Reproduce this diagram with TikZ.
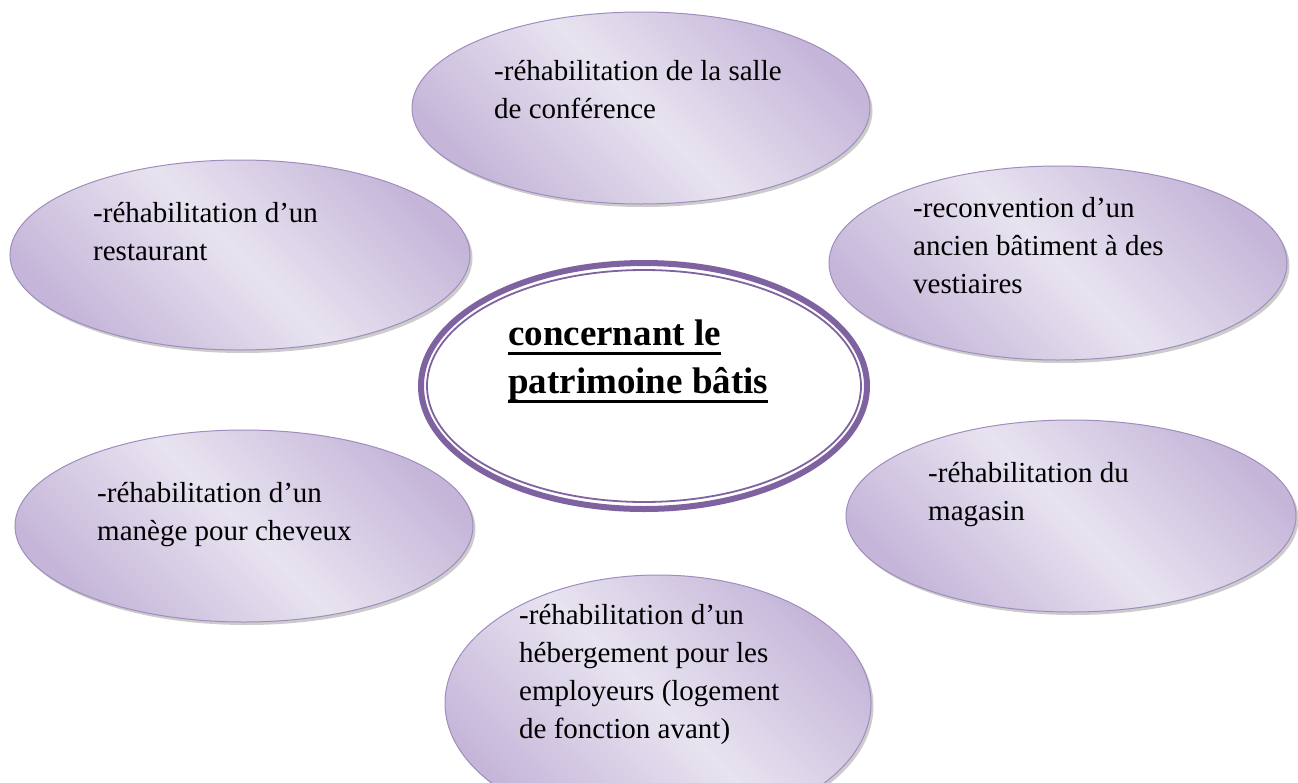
\documentclass[tikz,border=0pt]{standalone}
\usepackage{fontspec}
\setmainfont{Liberation Serif}
\usetikzlibrary{shapes.geometric,shadows}
\definecolor{pdark}{HTML}{C5B6D9}
\definecolor{plight}{HTML}{E8E3F0}
\definecolor{pborder}{HTML}{A08DBD}
\definecolor{ppurple}{HTML}{7F63A1}
\newcommand\myul[1]{\leavevmode\setbox0\hbox{#1}\rlap{\rule[-10pt]{\wd0}{2.8pt}}\box0}
\tikzset{
  petal/.style={ellipse, draw=pborder, line width=1pt, inner sep=0pt,
    top color=pdark, bottom color=pdark, middle color=plight, shading angle=-45,
    drop shadow={shadow xshift=2.5pt, shadow yshift=-3pt, fill=black!40}},
  lbl/.style={anchor=base west, inner sep=0pt},
}
\newcommand\lines[1]{\parbox[t]{420pt}{\raggedright\fontsize{29}{38}\selectfont #1}}
\begin{document}
\begin{tikzpicture}[x=1pt,y=-1pt]
\useasboundingbox (0,0) rectangle (1298,782);
% petals
\node[petal, minimum width=458pt, minimum height=192pt] (top) at (641,108) {};
\node[petal, minimum width=460pt, minimum height=190pt] (tl) at (240,255) {};
\node[petal, minimum width=458pt, minimum height=194pt] (tr) at (1058,263) {};
\node[petal, minimum width=458pt, minimum height=192pt] (bl) at (244,526) {};
\node[petal, minimum width=450pt, minimum height=192pt] (br) at (1071,516) {};
\node[petal, minimum width=426pt, minimum height=256pt] (bot) at (658,703) {};
% labels
\node[lbl] (ttop) at (494,80) {\lines{-réhabilitation de la salle\\de conférence}};
\node[lbl] (ttl) at (93,222) {\lines{-réhabilitation d’un\\restaurant}};
\node[lbl] (ttr) at (913,217) {\lines{-reconvention d’un\\ancien bâtiment à des\\vestiaires}};
\node[lbl] (tbl) at (97,502) {\lines{-réhabilitation d’un\\manège pour cheveux}};
\node[lbl] (tbr) at (928,482) {\lines{-réhabilitation du\\magasin}};
\node[lbl] (tbot) at (519,624) {\lines{-réhabilitation d’un\\hébergement pour les\\employeurs (logement\\de fonction avant)}};
% center
\node[ellipse, draw=ppurple, line width=6pt, fill=white, minimum width=446pt, minimum height=246pt, inner sep=0pt] (cout) at (644,386) {};
\node[ellipse, draw=ppurple, line width=1.8pt, minimum width=434pt, minimum height=232pt, inner sep=0pt] (cin) at (644,386) {};
\node[lbl] (tc) at (508,345) {\parbox[t]{400pt}{\raggedright\fontsize{37}{48}\selectfont\bfseries \myul{concernant le}\\\myul{patrimoine bâtis}}};
\end{tikzpicture}
\end{document}
